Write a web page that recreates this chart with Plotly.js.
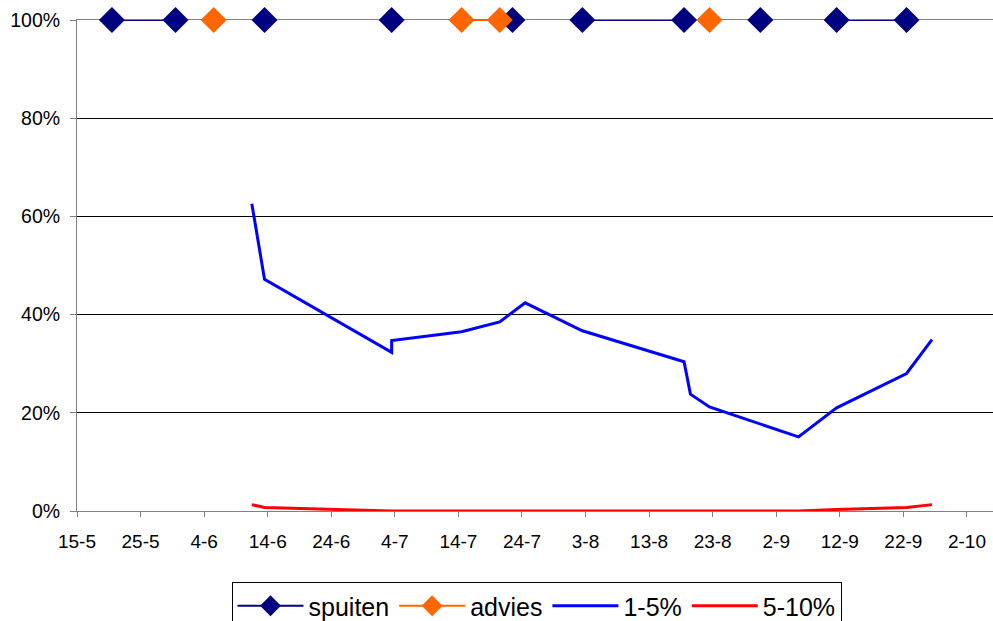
<!DOCTYPE html>
<html>
<head>
<meta charset="utf-8">
<script src="https://cdn.plot.ly/plotly-3.0.1.min.js"></script>
<style>html,body{margin:0;padding:0;background:#fff;}#chart{width:993px;height:621px;}</style>
</head>
<body>
<div id="chart"></div>
<script>
// Tick labels (dates on the x axis, every 10 days)
const tickDates = ["2000-05-15","2000-05-25","2000-06-04","2000-06-14","2000-06-24","2000-07-04","2000-07-14","2000-07-24","2000-08-03","2000-08-13","2000-08-23","2000-09-02","2000-09-12","2000-09-22","2000-10-02"];
const tickLabels = ["15-5","25-5","4-6","14-6","24-6","4-7","14-7","24-7","3-8","13-8","23-8","2-9","12-9","22-9","2-10"];

// spuiten (spray) days, null = break in the line
const spuitenDates  = ["2000-05-20","2000-05-30",null,"2000-06-13",null,"2000-07-03",null,"2000-07-22",null,"2000-08-02","2000-08-18",null,"2000-08-30",null,"2000-09-11","2000-09-22"];
const spuitenValues = [100,100,null,100,null,100,null,100,null,100,100,null,100,null,100,100];

// advies days
const adviesDates  = ["2000-06-05",null,"2000-07-14","2000-07-20",null,"2000-08-22"];
const adviesValues = [100,null,100,100,null,100];

// infection classes
const obsDates  = ["2000-06-11","2000-06-13","2000-07-03","2000-07-03","2000-07-14","2000-07-20","2000-07-24","2000-08-02","2000-08-18","2000-08-19","2000-08-22","2000-09-05","2000-09-11","2000-09-22","2000-09-26"];
const pct1to5   = [62.6,47.2,32.3,34.7,36.5,38.5,42.4,36.7,30.4,23.8,21.2,15.1,21.0,28.0,34.9];
const pct5to10  = [1.3,0.7,0,0,0,0,0,0,0,0,0,0,0.3,0.7,1.3];

const HALF_DAY = 12*3600*1000;
const DAY = 24*3600*1000;
const tickVals = tickDates.map(d => Date.parse(d + "T00:00:00Z") - HALF_DAY);
const xStart = tickVals[0];
const xEnd = xStart + 144.1*DAY;

const FONT = "Arial, 'Liberation Sans', sans-serif";

const traces = [
  {name:"spuiten", x:spuitenDates, y:spuitenValues, type:"scatter", mode:"lines+markers",
   line:{color:"#000080", width:2}, marker:{symbol:"diamond", size:20, color:"#000080"},
   connectgaps:false, cliponaxis:false},
  {name:"advies", x:adviesDates, y:adviesValues, type:"scatter", mode:"lines+markers",
   line:{color:"#FF6600", width:2}, marker:{symbol:"diamond", size:20, color:"#FF6600"},
   connectgaps:false, cliponaxis:false},
  {name:"1-5%", x:obsDates, y:pct1to5, type:"scatter", mode:"lines",
   line:{color:"#0000FF", width:3}, cliponaxis:false},
  {name:"5-10%", x:obsDates, y:pct5to10, type:"scatter", mode:"lines",
   line:{color:"#FF0000", width:3}, cliponaxis:false}
];

const layout = {
  width:993, height:621,
  margin:{l:77, r:0, t:20, b:110},
  paper_bgcolor:"#fff", plot_bgcolor:"#fff",
  font:{family:FONT, size:19, color:"#000"},
  showlegend:true,
  xaxis:{
    type:"date", range:[xStart, xEnd],
    tickmode:"array", tickvals:tickVals, ticktext:tickLabels,
    ticks:"outside", ticklen:5, tickcolor:"#808080", tickwidth:1,
    ticklabelstandoff:8,
    showgrid:false, zeroline:false,
    showline:true, linecolor:"#808080", linewidth:1, mirror:true,
    layer:"below traces",
    tickfont:{family:FONT, size:19, color:"#000"}
  },
  yaxis:{
    range:[0,100], tickmode:"array", tickvals:[0,20,40,60,80,100],
    ticktext:["0%","20%","40%","60%","80%","100%"],
    ticks:"outside", ticklen:6, tickcolor:"#808080", tickwidth:1,
    ticklabelstandoff:6,
    showgrid:true, gridcolor:"#000", gridwidth:1,
    zeroline:false, showline:true, linecolor:"#808080", linewidth:1,
    layer:"below traces",
    tickfont:{family:FONT, size:19.5, color:"#000"}
  },
  legend:{
    orientation:"h", xref:"container", yref:"container",
    x:0.5403, xanchor:"center", y:0.0628, yanchor:"top",
    bordercolor:"#000", borderwidth:1, bgcolor:"#fff",
    font:{family:FONT, size:25, color:"#000"},
    itemwidth:66, tracegroupgap:0
  }
};

Plotly.newPlot("chart", traces, layout, {displayModeBar:false, staticPlot:true});
</script>
</body>
</html>
